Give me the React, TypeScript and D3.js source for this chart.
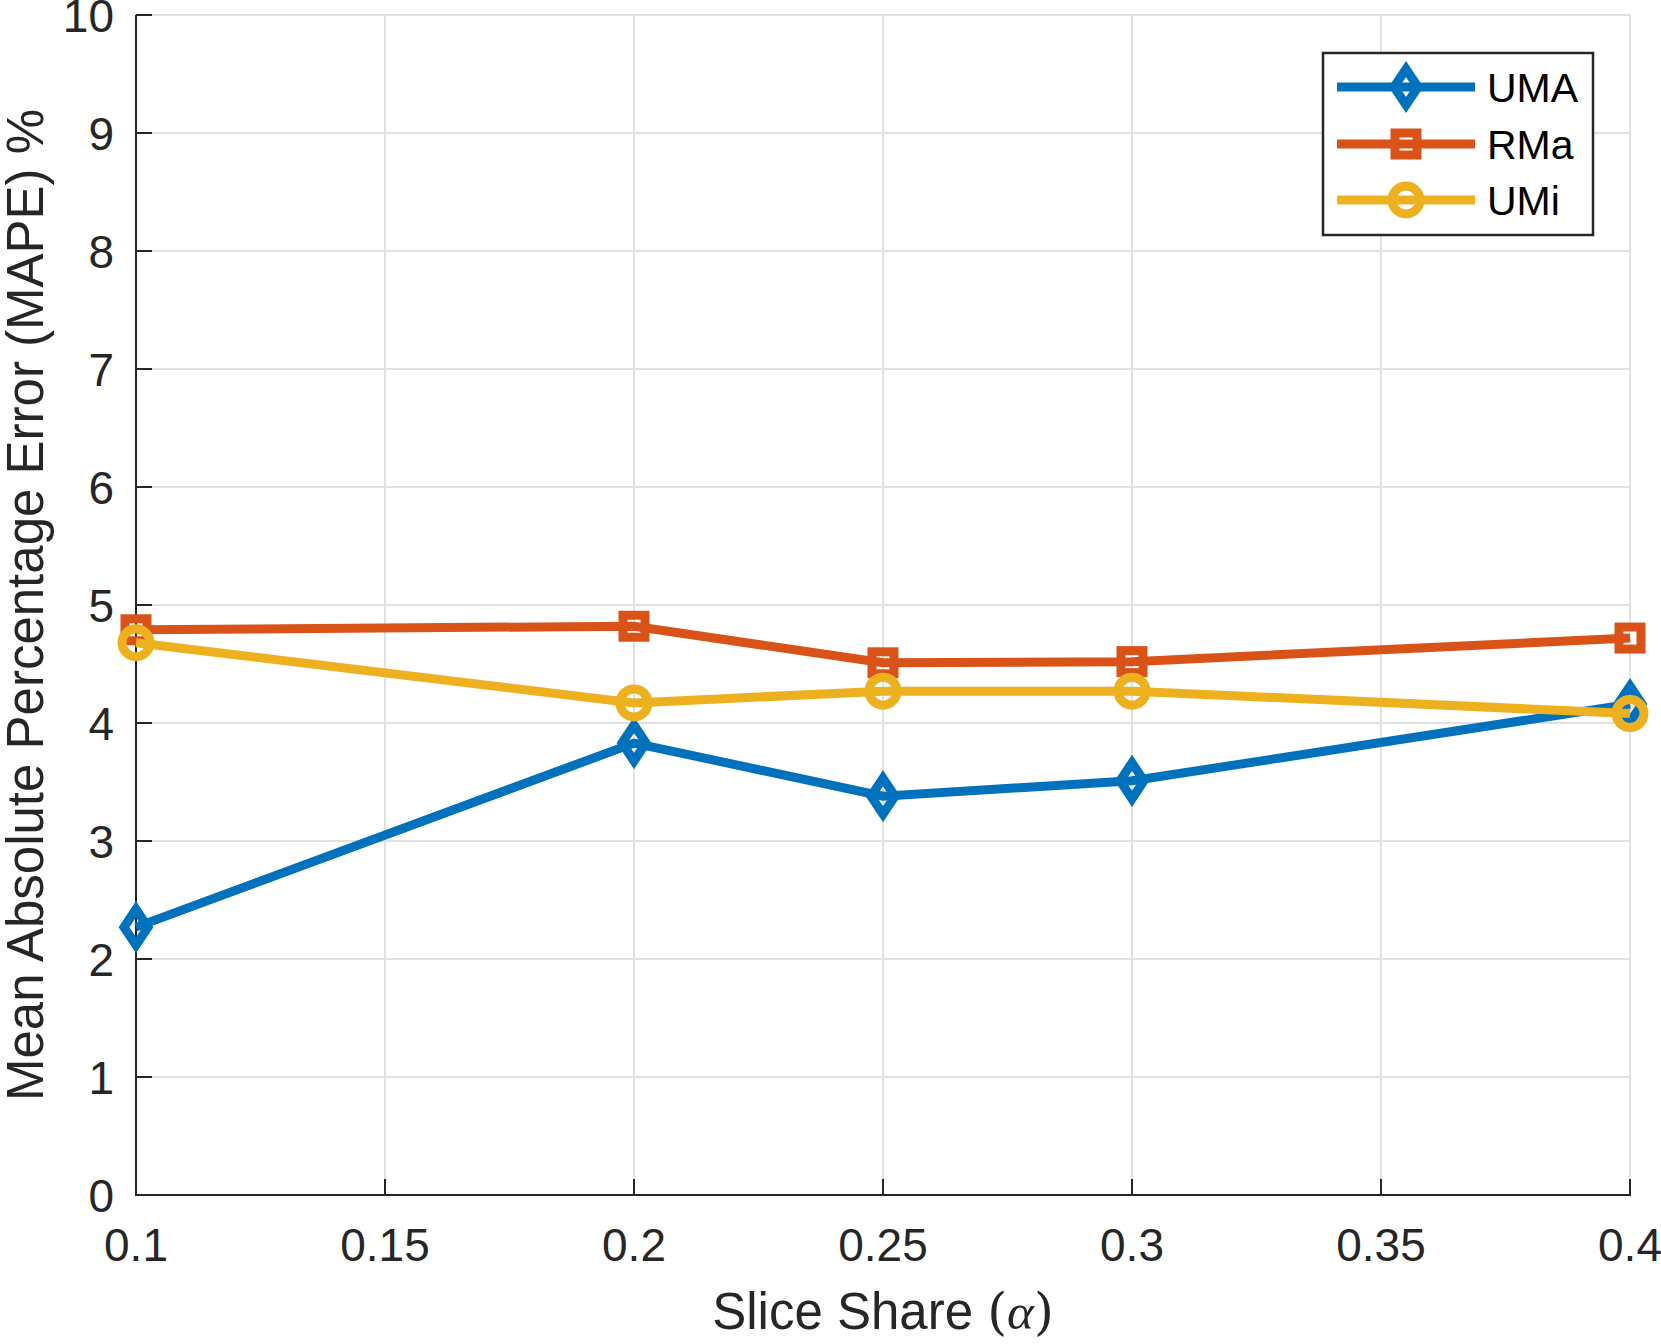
import React from "react";
import * as d3 from "d3";

const alphas = [0.1, 0.2, 0.25, 0.3, 0.4];
const umaValues = [2.27, 3.83, 3.38, 3.51, 4.16];
const rmaValues = [4.79, 4.82, 4.51, 4.52, 4.72];
const umiValues = [4.68, 4.17, 4.27, 4.27, 4.08];
const xTicks = [0.1, 0.15, 0.2, 0.25, 0.3, 0.35, 0.4];
const yTicks = [0, 1, 2, 3, 4, 5, 6, 7, 8, 9, 10];

const seriesNames = ["UMA", "RMa", "UMi"];
const seriesColors = ["#0072BD", "#D95319", "#EDB120"];
const seriesMarkers = ["diamond", "square", "circle"];

const W = 1661;
const H = 1344;
const left = 136;
const right = 1630;
const top = 15;
const bottom = 1195;

const FONT = "'Liberation Sans', Arial, Helvetica, sans-serif";
const AXIS_COLOR = "#262626";
const GRID_COLOR = "#e1e1e1";
const LW = 9;

function Marker({ kind, x, y, color }: { kind: string; x: number; y: number; color: string }) {
  if (kind === "diamond") {
    const a = 12, b = 18;
    return (
      <path
        d={`M${x},${y - b}L${x + a},${y}L${x},${y + b}L${x - a},${y}Z`}
        fill="none"
        stroke={color}
        strokeWidth={LW}
        strokeLinejoin="miter"
        strokeMiterlimit={10}
      />
    );
  }
  if (kind === "square") {
    const s = 11;
    return (
      <rect x={x - s} y={y - s} width={2 * s} height={2 * s} fill="none" stroke={color} strokeWidth={LW} />
    );
  }
  return <circle cx={x} cy={y} r={14} fill="none" stroke={color} strokeWidth={LW} />;
}

export default function App() {
  const x = d3.scaleLinear().domain([0.1, 0.4]).range([left, right]);
  const y = d3.scaleLinear().domain([0, 10]).range([bottom, top]);
  const seriesData = [umaValues, rmaValues, umiValues];
  const line = d3
    .line<number>()
    .x((_, i) => x(alphas[i]))
    .y((d) => y(d));

  const legendX = 1323;
  const legendY = 53;
  const legendW = 270;
  const legendH = 182;
  const rowYs = [87, 144, 200];

  return (
    <div style={{ position: "absolute", left: 0, top: 0 }}>
      <svg width={W} height={H} viewBox={`0 0 ${W} ${H}`} style={{ display: "block", background: "#fff" }}>
        <rect x={0} y={0} width={W} height={H} fill="#fff" />
        {/* grid */}
        {xTicks.map((t) => (
          <line key={`gx${t}`} x1={x(t)} x2={x(t)} y1={top} y2={bottom} stroke={GRID_COLOR} strokeWidth={2} />
        ))}
        {yTicks.map((t) => (
          <line key={`gy${t}`} x1={left} x2={right} y1={y(t)} y2={y(t)} stroke={GRID_COLOR} strokeWidth={2} />
        ))}
        {/* axes */}
        <line x1={left} x2={left} y1={top} y2={bottom + 1} stroke={AXIS_COLOR} strokeWidth={2} />
        <line x1={left - 1} x2={right + 1} y1={bottom} y2={bottom} stroke={AXIS_COLOR} strokeWidth={2} />
        {yTicks.map((t) => (
          <g key={`ty${t}`}>
            <line x1={left} x2={left + 16} y1={y(t)} y2={y(t)} stroke={AXIS_COLOR} strokeWidth={2} />
            <text
              x={114}
              y={y(t) + 17}
              textAnchor="end"
              fontFamily={FONT}
              fontSize={46}
              fill={AXIS_COLOR}
            >
              {t}
            </text>
          </g>
        ))}
        {xTicks.map((t) => (
          <g key={`tx${t}`}>
            <line x1={x(t)} x2={x(t)} y1={bottom} y2={bottom - 16} stroke={AXIS_COLOR} strokeWidth={2} />
            <text x={x(t)} y={1261} textAnchor="middle" fontFamily={FONT} fontSize={46} fill={AXIS_COLOR}>
              {String(t)}
            </text>
          </g>
        ))}
        {/* axis labels */}
        <text x={(left + right) / 2} y={1329} textAnchor="middle" fontFamily={FONT} fontSize={51} fill={AXIS_COLOR}>
          Slice Share{" "}
          <tspan fontFamily="'DejaVu Serif', 'Liberation Serif', serif">(</tspan>
          <tspan fontFamily="'Liberation Serif', 'DejaVu Serif', serif" fontStyle="italic">α</tspan>
          <tspan fontFamily="'DejaVu Serif', 'Liberation Serif', serif">)</tspan>
        </text>
        <text
          transform={`translate(43, ${(top + bottom) / 2}) rotate(-90)`}
          textAnchor="middle"
          fontFamily={FONT}
          fontSize={51}
          fill={AXIS_COLOR}
        >
          Mean Absolute Percentage Error (MAPE) %
        </text>
        {/* series */}
        {seriesData.map((vals, si) => (
          <g key={seriesNames[si]}>
            <path d={line(vals) || ""} fill="none" stroke={seriesColors[si]} strokeWidth={LW} strokeLinejoin="miter" />
            {vals.map((v, i) => (
              <Marker key={i} kind={seriesMarkers[si]} x={x(alphas[i])} y={y(v)} color={seriesColors[si]} />
            ))}
          </g>
        ))}
        {/* legend */}
        <rect x={legendX} y={legendY} width={legendW} height={legendH} fill="#fff" stroke="#262626" strokeWidth={2.5} />
        {seriesNames.map((name, si) => (
          <g key={`lg${name}`}>
            <line x1={1337} x2={1475} y1={rowYs[si]} y2={rowYs[si]} stroke={seriesColors[si]} strokeWidth={LW} />
            <Marker kind={seriesMarkers[si]} x={1406} y={rowYs[si]} color={seriesColors[si]} />
            <text x={1487} y={rowYs[si] + 15} fontFamily={FONT} fontSize={41} fill="#000">
              {name}
            </text>
          </g>
        ))}
      </svg>
    </div>
  );
}
